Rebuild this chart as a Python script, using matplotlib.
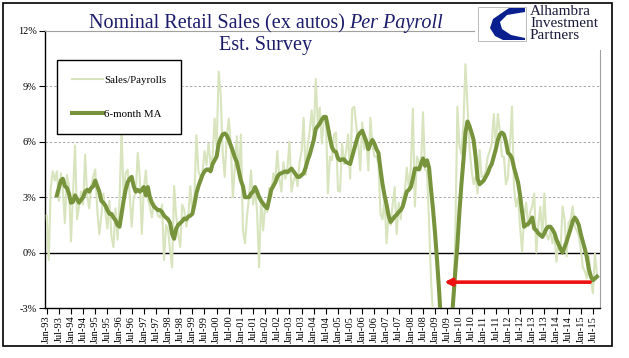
import numpy as np
import matplotlib
matplotlib.use('Agg')
import matplotlib.pyplot as plt
from matplotlib.patches import Rectangle, Polygon

W, H = 629, 358

# monthly series, Jan-93 .. Sep-15 (% yoy)
sales = [
    2.0, -0.4, 3.5, 4.4, 3.9, 4.4, 2.8, 4.3, 3.4, 1.6, 4.2, 3.6,        # 1993
    0.6, 3.2, 5.8, 1.8, 2.5, 3.3, 2.6, 5.3, 3.1, 2.4, 3.6, 4.1,         # 1994
    4.5, 2.3, 1.0, 2.0, 3.2, 2.2, 1.3, 2.8, 0.9, 0.3, 2.4, 0.7,         # 1995
    2.8, 6.6, 3.0, 4.3, 4.5, 3.2, 1.4, 3.0, 3.2, 5.4, 4.1, 1.0,         # 1996
    3.4, 4.45, 2.9, 2.5, 1.9, 2.7, 2.4, 2.0, 1.9, 2.6, -0.4, 1.5,       # 1997
    1.2, 0.1, -0.8, 3.6, 2.0, 1.0, 0.3, 2.6, 2.3, 1.4, 2.0, 3.6,        # 1998
    2.2, 3.0, 6.35, 4.4, 4.1, 4.3, 5.5, 4.75, 5.9, 4.8, 5.2, 7.25,      # 1999
    5.7, 9.8, 8.6, 5.4, 4.1, 6.3, 7.25, 5.9, 3.0, 4.6, 6.3, 4.1,        # 2000
    6.4, 1.2, 0.5, 1.95, 3.0, 4.45, 2.6, 3.4, 2.2, -0.8, 3.0, 1.2,      # 2001
    2.6, 2.2, 3.5, 3.0, 4.3, 3.9, 5.5, 4.0, 3.3, 4.9, 4.0, 4.6,         # 2002
    6.0, 3.3, 3.9, 4.2, 3.6, 4.9, 5.5, 7.3, 4.2, 5.8, 6.6, 7.7,         # 2003
    6.2, 9.4, 7.0, 7.85, 5.9, 7.2, 7.35, 3.2, 5.2, 5.0, 6.4, 6.5,       # 2004
    3.35, 3.3, 5.9, 4.8, 5.5, 6.4, 4.0, 7.8, 7.9, 6.9, 5.9, 4.45,       # 2005
    7.05, 5.6, 6.2, 4.45, 7.3, 5.8, 5.2, 5.2, 4.8, 2.1, 1.8, 3.0,       # 2006
    0.5, 2.1, 1.5, 2.6, 3.55, 1.0, 2.7, 1.8, 2.9, 3.3, 4.6, 3.5,        # 2007
    4.6, 7.8, 2.5, 5.2, 4.9, 4.5, 7.6, 4.5, 4.4, 1.6, -1.5, -3.5,       # 2008
    -7.0, -8.5, -9.0, -10.0, -9.5, -9.0, -8.0, -6.5, -5.0, -2.2, 1.0, 7.9,  # 2009
    5.8, 5.35, 7.0, 10.2, 8.0, 5.7, 4.5, 3.7, 4.1, 3.2, 5.55, 4.1,      # 2010
    4.1, 4.4, 5.2, 5.5, 5.9, 7.5, 5.7, 7.5, 6.6, 5.2, 5.2, 3.7,         # 2011
    4.1, 5.9, 7.9, 3.55, 2.5, 3.0, 1.4, 0.05, 2.0, 2.7, 1.4, 2.2,       # 2012
    2.5, 3.2, 0.0, 1.5, 2.5, 0.8, 3.2, 1.0, 0.7, 1.2, 0.5, 1.0,         # 2013
    -0.5, 0.6, 0.1, 2.5, 1.8, -0.2, 1.6, 1.8, 2.5, 1.4, 1.2, 0.9,       # 2014
    0.2, -0.8, -1.0, -1.4, -0.2, -1.5, -2.2, -0.05, -1.2,               # 2015
]

ma6 = [np.nan] * 5 + [
    3.1, 3.5, 3.9, 4.0, 3.6, 3.5, 3.2,
    2.7, 2.75, 3.1, 2.9, 2.7, 2.85, 3.0, 3.3, 3.4, 3.3, 3.5, 3.6,
    3.9, 3.6, 3.3, 2.8, 2.7, 2.55, 2.3, 2.1, 2.1, 1.9, 1.75, 1.5,
    1.4, 2.1, 2.8, 3.4, 3.8, 4.0, 4.1, 3.6, 3.3, 3.4, 3.3, 3.4,
    3.55, 3.1, 3.55, 3.0, 2.7, 2.5, 2.4, 2.3, 2.3, 2.2, 2.0, 1.9,
    1.8, 1.6, 1.0, 0.75, 1.3, 1.5, 1.6, 1.7, 1.85, 1.8, 1.95, 2.0,
    2.1, 2.6, 3.2, 3.6, 3.9, 4.2, 4.4, 4.5, 4.5, 4.4, 4.8, 5.0,
    5.2, 5.9, 6.2, 6.4, 6.45, 6.35, 6.1, 5.8, 5.5, 5.15, 4.9, 4.4,
    3.9, 3.6, 3.0, 3.0, 3.0, 3.2, 3.3, 3.55, 3.3, 3.0, 2.8, 2.65,
    2.5, 2.4, 2.9, 3.4, 3.6, 3.8, 4.1, 4.25, 4.3, 4.35, 4.4, 4.35,
    4.45, 4.55, 4.4, 4.25, 4.1, 4.1, 4.2, 4.3, 4.6, 5.0, 5.3, 5.7,
    6.1, 6.7, 6.85, 7.0, 7.2, 7.35, 7.35, 6.8, 6.2, 5.7, 5.5, 5.45,
    5.1, 5.0, 5.05, 5.05, 4.9, 4.85, 4.8, 5.2, 5.6, 6.0, 6.35, 6.5,
    6.6, 6.3, 6.0, 5.6, 5.9, 6.1, 5.9, 5.6, 5.4, 4.5, 3.7, 3.1,
    2.6, 2.0, 1.66, 1.8, 1.95, 2.05, 2.2, 2.3, 2.5, 2.9, 3.3, 3.4,
    3.55, 4.0, 4.55, 4.55, 4.5, 4.8, 5.1, 4.7, 5.0, 4.6, 3.4, 2.3,
    1.0, -0.5, -2.1, -4.0, -6.0, -7.0, -6.5, -5.0, -4.0, -2.5, -1.0, 0.4,
    2.2, 3.7, 5.0, 6.5, 7.1, 6.85, 6.5, 6.1, 5.2, 4.0, 3.7, 3.8,
    3.9, 4.1, 4.3, 4.6, 4.8, 5.2, 5.6, 6.1, 6.4, 6.5, 6.4, 6.0,
    5.4, 5.3, 5.1, 4.6, 4.2, 3.8, 3.1, 2.2, 1.4, 1.5, 1.55, 1.7,
    1.9, 1.3, 1.2, 1.05, 0.95, 0.85, 1.05, 1.3, 1.4, 1.4, 1.25, 1.05,
    0.7, 0.45, 0.2, 0.0, 0.3, 0.6, 0.95, 1.3, 1.7, 1.9, 1.75, 1.5,
    1.0, 0.6, 0.2, -0.25, -0.9, -1.3, -1.5, -1.4, -1.3,
]

tick_labels = ['%s-%02d' % (mon, yr % 100) for yr in range(1993, 2016) for mon in ('Jan', 'Jul')]
y_ticks = [-3, 0, 3, 6, 9, 12]

serif = 'Liberation Serif'
navy = '#1c1c6b'
light_green = '#d7e4bd'
dark_green = '#77933c'

fig = plt.figure(figsize=(W / 100, H / 100), dpi=100)
ax = fig.add_axes([45 / W, 1 - 308 / H, 555 / W, 277 / H])

x = np.arange(len(sales))
ax.plot(x, sales, color=light_green, lw=1.5, label='Sales/Payrolls', zorder=3)
ax.plot(x, ma6, color=dark_green, lw=2.9, label='6-month MA', zorder=4)

for v in (3, 6, 9):
    ax.axhline(v, color='#a6a6a6', lw=0.7, dashes=(2.5, 2), zorder=1)
ax.axhline(0, color='black', lw=1.0, zorder=2)

ax.annotate('', xy=(196.5, -1.6), xytext=(268.6, -1.6),
            arrowprops=dict(arrowstyle='-|>', color='#ee1111', lw=2.6,
                            mutation_scale=10, shrinkA=0, shrinkB=0),
            zorder=6)

ax.set_xlim(-0.84, 273.5)
ax.set_ylim(-3, 12)
ax.set_yticks(y_ticks)
ax.set_yticklabels(['%d%%' % v for v in y_ticks], family=serif, fontsize=7.5)
ax.set_xticks(np.arange(0, 6 * len(tick_labels), 6))
ax.set_xticklabels(tick_labels, rotation=90, family=serif, fontsize=7.5)
ax.tick_params(axis='y', direction='out', length=4, width=0.8, pad=2)
ax.tick_params(axis='x', direction='out', length=4, width=0.8, pad=1.5)

for s in ('left', 'bottom'):
    ax.spines[s].set_color('black')
    ax.spines[s].set_linewidth(1.0)
for s in ('top', 'right'):
    ax.spines[s].set_color('#a0a0a0')
    ax.spines[s].set_linewidth(0.8)

leg = ax.legend(loc='upper left', bbox_to_anchor=(57 / W, 1 - 60 / H),
                bbox_transform=fig.transFigure, prop={'family': serif, 'size': 7.8},
                frameon=True, fancybox=False, framealpha=1, edgecolor='black',
                borderpad=1.4, labelspacing=2.25, handlelength=2.8,
                handletextpad=0.15, borderaxespad=0)
leg.get_frame().set_linewidth(1.0)
leg.set_zorder(7)

# title, with the italic part
r = fig.canvas.get_renderer()
t1 = fig.text(0, 1 - 28 / H, 'Nominal Retail Sales (ex autos)', family=serif,
              fontsize=14.5, color=navy, va='baseline')
t2 = fig.text(0, 1 - 28 / H, 'Per Payroll', family=serif, style='italic',
              fontsize=14.5, color=navy, va='baseline')
w1 = t1.get_window_extent(r).width
w2 = t2.get_window_extent(r).width
gap = 4.5
x0 = 266 - (w1 + gap + w2) / 2
t1.set_x(x0 / W)
t2.set_x((x0 + w1 + gap) / W)
fig.text(266 / W, 1 - 50 / H, 'Est. Survey', family=serif, fontsize=14.5,
         color=navy, ha='center', va='baseline')

# logo block
fig.patches.append(Rectangle((475 / W, 1 - 50 / H), 135 / W, 46 / H, transform=fig.transFigure,
                             facecolor='white', edgecolor='none', zorder=10))
fig.patches.append(Rectangle((478 / W, 1 - 41 / H), 48 / W, 34 / H, transform=fig.transFigure,
                             facecolor='white', edgecolor='#b0b0b0', lw=0.6, zorder=11))
swoosh = [(525, 8), (509, 8), (493, 19), (490, 28), (495, 36), (503, 40), (525, 40),
          (525, 38), (511, 35), (502, 29), (500, 22), (507, 15), (525, 12)]
fig.patches.append(Polygon([(px / W, 1 - py / H) for px, py in swoosh], closed=True,
                           transform=fig.transFigure, facecolor='#0a1f8f',
                           edgecolor='none', zorder=12))
fig.text(530 / W, 1 - 5 / H, 'Alhambra\nInvestment\nPartners', family=serif,
         fontsize=11, linespacing=0.88, color='#1a1a3a', va='top', ha='left', zorder=12)

# outer frame
fig.patches.append(Rectangle((3 / W, 1 - 346 / H), 609 / W, 343 / H, transform=fig.transFigure,
                             fill=False, edgecolor='black', lw=1.2, zorder=12))

fig.savefig('out.png', dpi=100)
